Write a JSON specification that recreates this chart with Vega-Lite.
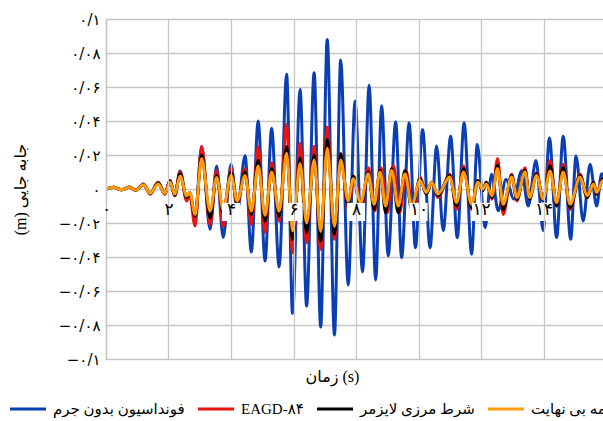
{
  "$schema": "https://vega.github.io/schema/vega-lite/v6.json",
  "width": 497,
  "height": 340,
  "autosize": {"type": "none"},
  "padding": {"left": 106, "top": 19, "right": 0, "bottom": 62},
  "background": "white",
  "config": {
    "view": {"stroke": null},
    "font": "Liberation Serif, DejaVu Sans",
    "axis": {"labelColor": "#000", "titleColor": "#000", "titleFontWeight": "normal", "labelOverlap": false, "labelBound": false},
    "axisY": {"labelOverlap": false},
    "axisQuantitative": {"labelOverlap": false}
  },
  "datasets": {
    "massless": [
      {"t":0,"v":0},{"t":0.25,"v":0.001},{"t":0.5,"v":-0.0005},{"t":0.75,"v":0.0012},{"t":0.95,"v":-0.0008},
      {"t":1.2,"v":0.003},{"t":1.41,"v":-0.003},{"t":1.67,"v":0.004},{"t":1.88,"v":-0.003},{"t":2.05,"v":0.005},
      {"t":2.2,"v":-0.004},{"t":2.37,"v":0.0106},{"t":2.58,"v":-0.006},{"t":2.68,"v":-0.002},{"t":2.85,"v":-0.018},
      {"t":3.06,"v":0.025},{"t":3.33,"v":-0.0237},{"t":3.54,"v":0.0135},{"t":3.75,"v":-0.0286},{"t":4.0,"v":0.0145},
      {"t":4.2,"v":-0.013},{"t":4.45,"v":0.0195},{"t":4.65,"v":-0.037},{"t":4.87,"v":0.04},{"t":5.09,"v":-0.0424},
      {"t":5.3,"v":0.0357},{"t":5.54,"v":-0.0459},{"t":5.78,"v":0.0675},{"t":5.97,"v":-0.0733},{"t":6.21,"v":0.0586},
      {"t":6.42,"v":-0.0688},{"t":6.66,"v":0.0684},{"t":6.87,"v":-0.0812},{"t":7.08,"v":0.088},{"t":7.31,"v":-0.0859},
      {"t":7.51,"v":0.0759},{"t":7.75,"v":-0.0565},{"t":7.97,"v":0.0518},{"t":8.21,"v":-0.0488},{"t":8.42,"v":0.061},
      {"t":8.63,"v":-0.0535},{"t":8.82,"v":0.049},{"t":9.03,"v":-0.0394},{"t":9.27,"v":0.0396},{"t":9.46,"v":-0.0404},
      {"t":9.7,"v":0.039},{"t":9.9,"v":-0.0345},{"t":10.13,"v":0.035},{"t":10.37,"v":-0.0345},{"t":10.58,"v":0.0253},
      {"t":10.79,"v":-0.0245},{"t":11.03,"v":0.031},{"t":11.24,"v":-0.0286},{"t":11.46,"v":0.039},{"t":11.7,"v":-0.0384},
      {"t":11.88,"v":0.0263},{"t":12.13,"v":-0.0228},{"t":12.34,"v":0.0087},{"t":12.55,"v":-0.0128},{"t":12.8,"v":0.0057},
      {"t":13.05,"v":-0.006},{"t":13.3,"v":0.0108},{"t":13.51,"v":-0.01},{"t":13.76,"v":0.0167},{"t":13.99,"v":-0.0245},
      {"t":14.19,"v":0.03},{"t":14.42,"v":-0.0286},{"t":14.63,"v":0.031},{"t":14.87,"v":-0.0296},{"t":15.04,"v":0.0194},
      {"t":15.27,"v":-0.0188},{"t":15.49,"v":0.0145},{"t":15.7,"v":-0.01},{"t":15.86,"v":0.009},{"t":16,"v":-0.004}
    ],
    "eagd": [
      {"t":0,"v":0},{"t":0.25,"v":0.001},{"t":0.5,"v":-0.0005},{"t":0.75,"v":0.0012},{"t":0.95,"v":-0.0008},
      {"t":1.2,"v":0.003},{"t":1.41,"v":-0.003},{"t":1.67,"v":0.004},{"t":1.88,"v":-0.003},{"t":2.05,"v":0.005},
      {"t":2.2,"v":-0.004},{"t":2.37,"v":0.01},{"t":2.58,"v":-0.007},{"t":2.68,"v":-0.004},{"t":2.85,"v":-0.0218},
      {"t":3.06,"v":0.025},{"t":3.33,"v":-0.021},{"t":3.54,"v":0.011},{"t":3.75,"v":-0.022},{"t":4.0,"v":0.012},
      {"t":4.2,"v":-0.01},{"t":4.45,"v":0.012},{"t":4.65,"v":-0.021},{"t":4.87,"v":0.025},{"t":5.09,"v":-0.0257},
      {"t":5.3,"v":0.0155},{"t":5.54,"v":-0.019},{"t":5.78,"v":0.038},{"t":5.97,"v":-0.0375},{"t":6.21,"v":0.0267},
      {"t":6.42,"v":-0.0316},{"t":6.66,"v":0.025},{"t":6.87,"v":-0.0355},{"t":7.08,"v":0.0365},{"t":7.31,"v":-0.0296},
      {"t":7.51,"v":0.021},{"t":7.75,"v":-0.012},{"t":7.95,"v":0.007},{"t":8.18,"v":-0.012},{"t":8.4,"v":0.0125},
      {"t":8.6,"v":-0.013},{"t":8.8,"v":0.0125},{"t":9.0,"v":-0.014},{"t":9.2,"v":0.0135},{"t":9.4,"v":-0.014},
      {"t":9.6,"v":0.011},{"t":9.83,"v":-0.014},{"t":10.05,"v":0.007},{"t":10.25,"v":-0.003},{"t":10.42,"v":0.004},
      {"t":10.62,"v":-0.005},{"t":11.0,"v":0.0087},{"t":11.22,"v":-0.012},{"t":11.44,"v":0.0135},{"t":11.7,"v":-0.012},
      {"t":11.9,"v":0.005},{"t":12.05,"v":-0.001},{"t":12.17,"v":0.004},{"t":12.35,"v":-0.006},{"t":12.53,"v":0.018},
      {"t":12.71,"v":-0.015},{"t":12.98,"v":0.0087},{"t":13.15,"v":-0.007},{"t":13.41,"v":0.0125},{"t":13.55,"v":-0.006},
      {"t":13.78,"v":0.0096},{"t":13.99,"v":-0.007},{"t":14.21,"v":0.0167},{"t":14.42,"v":-0.01},{"t":14.63,"v":0.0145},
      {"t":14.85,"v":-0.012},{"t":15.17,"v":0.0087},{"t":15.4,"v":-0.005},{"t":15.6,"v":0.004},{"t":15.7,"v":-0.003},
      {"t":15.9,"v":0.006},{"t":16,"v":0.003}
    ],
    "lysmer": [
      {"t":0,"v":0},{"t":0.25,"v":0.001},{"t":0.5,"v":-0.0005},{"t":0.75,"v":0.001},{"t":0.95,"v":-0.0008},
      {"t":1.2,"v":0.0025},{"t":1.41,"v":-0.0025},{"t":1.67,"v":0.0035},{"t":1.88,"v":-0.0025},{"t":2.05,"v":0.0045},
      {"t":2.2,"v":-0.0035},{"t":2.37,"v":0.009},{"t":2.58,"v":-0.005},{"t":2.68,"v":-0.003},{"t":2.85,"v":-0.016},
      {"t":3.06,"v":0.02},{"t":3.33,"v":-0.017},{"t":3.54,"v":0.008},{"t":3.75,"v":-0.014},{"t":4.0,"v":0.01},
      {"t":4.2,"v":-0.008},{"t":4.45,"v":0.01},{"t":4.65,"v":-0.015},{"t":4.87,"v":0.017},{"t":5.09,"v":-0.019},
      {"t":5.3,"v":0.012},{"t":5.54,"v":-0.016},{"t":5.78,"v":0.025},{"t":5.97,"v":-0.0296},{"t":6.21,"v":0.0184},
      {"t":6.42,"v":-0.0257},{"t":6.66,"v":0.02},{"t":6.87,"v":-0.0306},{"t":7.08,"v":0.029},{"t":7.31,"v":-0.0267},
      {"t":7.51,"v":0.0206},{"t":7.75,"v":-0.01},{"t":7.91,"v":0.0076},{"t":8.15,"v":-0.011},{"t":8.39,"v":0.01},
      {"t":8.58,"v":-0.012},{"t":8.77,"v":0.011},{"t":8.95,"v":-0.014},{"t":9.14,"v":0.012},{"t":9.35,"v":-0.014},
      {"t":9.57,"v":0.011},{"t":9.78,"v":-0.012},{"t":10.05,"v":0.006},{"t":10.25,"v":-0.003},{"t":10.42,"v":0.004},
      {"t":10.62,"v":-0.004},{"t":11.0,"v":0.008},{"t":11.22,"v":-0.01},{"t":11.44,"v":0.012},{"t":11.7,"v":-0.011},
      {"t":11.9,"v":0.005},{"t":12.05,"v":-0.001},{"t":12.17,"v":0.004},{"t":12.35,"v":-0.005},{"t":12.53,"v":0.014},
      {"t":12.71,"v":-0.012},{"t":12.98,"v":0.008},{"t":13.15,"v":-0.006},{"t":13.41,"v":0.011},{"t":13.55,"v":-0.006},
      {"t":13.78,"v":0.009},{"t":13.99,"v":-0.007},{"t":14.21,"v":0.0137},{"t":14.42,"v":-0.01},{"t":14.63,"v":0.0127},
      {"t":14.85,"v":-0.011},{"t":15.17,"v":0.008},{"t":15.4,"v":-0.005},{"t":15.6,"v":0.004},{"t":15.7,"v":-0.003},
      {"t":15.9,"v":0.006},{"t":16,"v":0.003}
    ],
    "infinite": [
      {"t":0,"v":0},{"t":0.25,"v":0.001},{"t":0.5,"v":-0.0005},{"t":0.75,"v":0.001},{"t":0.95,"v":-0.0008},
      {"t":1.2,"v":0.0025},{"t":1.41,"v":-0.0025},{"t":1.67,"v":0.003},{"t":1.88,"v":-0.0025},{"t":2.05,"v":0.004},
      {"t":2.2,"v":-0.003},{"t":2.37,"v":0.0076},{"t":2.58,"v":-0.004},{"t":2.68,"v":-0.002},{"t":2.85,"v":-0.015},
      {"t":3.06,"v":0.018},{"t":3.33,"v":-0.013},{"t":3.54,"v":0.0067},{"t":3.75,"v":-0.012},{"t":4.0,"v":0.008},
      {"t":4.2,"v":-0.007},{"t":4.45,"v":0.008},{"t":4.65,"v":-0.013},{"t":4.87,"v":0.0135},{"t":5.09,"v":-0.0155},
      {"t":5.3,"v":0.01},{"t":5.54,"v":-0.013},{"t":5.78,"v":0.021},{"t":5.97,"v":-0.0247},{"t":6.21,"v":0.015},
      {"t":6.42,"v":-0.02},{"t":6.66,"v":0.017},{"t":6.87,"v":-0.025},{"t":7.08,"v":0.024},{"t":7.31,"v":-0.022},
      {"t":7.51,"v":0.017},{"t":7.75,"v":-0.007},{"t":7.91,"v":0.006},{"t":8.15,"v":-0.008},{"t":8.39,"v":0.009},
      {"t":8.58,"v":-0.009},{"t":8.77,"v":0.01},{"t":8.95,"v":-0.01},{"t":9.14,"v":0.011},{"t":9.35,"v":-0.01},
      {"t":9.57,"v":0.009},{"t":9.78,"v":-0.01},{"t":10.05,"v":0.005},{"t":10.25,"v":-0.002},{"t":10.42,"v":0.004},
      {"t":10.62,"v":-0.003},{"t":11.0,"v":0.007},{"t":11.22,"v":-0.008},{"t":11.44,"v":0.01},{"t":11.7,"v":-0.009},
      {"t":11.9,"v":0.004},{"t":12.05,"v":0},{"t":12.17,"v":0.003},{"t":12.35,"v":-0.004},{"t":12.53,"v":0.012},
      {"t":12.71,"v":-0.009},{"t":12.98,"v":0.007},{"t":13.15,"v":-0.005},{"t":13.41,"v":0.01},{"t":13.55,"v":-0.005},
      {"t":13.78,"v":0.008},{"t":13.99,"v":-0.006},{"t":14.21,"v":0.0106},{"t":14.42,"v":-0.008},{"t":14.63,"v":0.01},
      {"t":14.85,"v":-0.009},{"t":15.17,"v":0.007},{"t":15.4,"v":-0.004},{"t":15.6,"v":0.003},{"t":15.7,"v":-0.002},
      {"t":15.9,"v":0.005},{"t":16,"v":0.002}
    ],
    "timeTicks": [
      {"t":0},{"t":2},{"t":4},{"t":6},{"t":8},{"t":10},{"t":12},{"t":14}
    ]
  },
  "layer": [
    {
      "data": {"name": "massless"},
      "mark": {"type": "line", "interpolate": "monotone", "strokeWidth": 3, "clip": true},
      "encoding": {
        "x": {
          "field": "t", "type": "quantitative",
          "scale": {"domain": [0, 15.904], "nice": false},
          "axis": {
            "values": [0, 2, 4, 6, 8, 10, 12, 14],
            "offset": -170,
            "grid": true, "gridColor": "#c6c6c6", "gridWidth": 1.3,
            "domain": false, "ticks": false, "tickSize": 0,
            "labelPadding": 12, "labelFontSize": 17, "labelFont": "DejaVu Sans",
            "labelOverlap": false, "labelFlush": false,
            "labelExpr": "replace(replace(replace(replace(replace(replace(datum.label, regexp('0','g'), '۰'), regexp('1','g'), '۱'), '2', '۲'), '4', '۴'), '6', '۶'), '8', '۸')",
            "zindex": 1,
            "title": "زمان (s)", "titleFontSize": 16,
            "titleX": 226, "titleY": 187, "titleAlign": "center", "titleBaseline": "middle"
          }
        },
        "y": {
          "field": "v", "type": "quantitative",
          "scale": {"domain": [-0.1, 0.1], "nice": false},
          "axis": {
            "values": [-0.1, -0.08, -0.06, -0.04, -0.02, 0, 0.02, 0.04, 0.06, 0.08, 0.1],
            "tickCount": 11,
            "grid": true, "gridColor": "#c6c6c6", "gridWidth": 1.3,
            "domain": true, "domainColor": "#b4b4b4", "domainWidth": 1.3,
            "ticks": false, "labelPadding": 6, "labelFontSize": 15, "labelFont": "DejaVu Sans",
            "labelOverlap": false, "labelFlush": false, "labelBound": false,
            "labelExpr": "(datum.value < 0 ? '−' : '') + replace(replace(replace(replace(replace(replace(replace(format(abs(datum.value), '.2~f'), regexp('0','g'), '۰'), '.', '/'), '1', '۱'), '2', '۲'), '4', '۴'), '6', '۶'), '8', '۸')",
            "title": "(m) جابه جایی", "titleFontSize": 16,
            "titleX": -86, "titleY": 170, "titleAngle": -90, "titleAlign": "center", "titleBaseline": "middle"
          }
        },
        "color": {
          "datum": "فونداسیون بدون جرم", "type": "nominal",
          "scale": {
            "domain": ["فونداسیون بدون جرم", "EAGD-۸۴", "شرط مرزی لایزمر", "المان نیمه بی نهایت"],
            "range": ["#0a3fb4", "#e8140f", "#000000", "#ff9a0a"]
          },
          "legend": {
            "orient": "none", "legendX": -98, "legendY": 370,
            "direction": "horizontal", "title": null, "padding": 0,
            "symbolType": "stroke", "symbolStrokeWidth": 3, "symbolSize": 1300,
            "labelFontSize": 15, "labelFont": "Liberation Serif, DejaVu Sans", "labelColor": "#000",
            "labelOffset": 5, "columnPadding": 6, "labelLimit": 300
          }
        }
      }
    },
    {
      "data": {"name": "eagd"},
      "mark": {"type": "line", "interpolate": "monotone", "strokeWidth": 3, "clip": true},
      "encoding": {
        "x": {"field": "t", "type": "quantitative"},
        "y": {"field": "v", "type": "quantitative"},
        "color": {"datum": "EAGD-۸۴", "type": "nominal"}
      }
    },
    {
      "data": {"name": "lysmer"},
      "mark": {"type": "line", "interpolate": "monotone", "strokeWidth": 3, "clip": true},
      "encoding": {
        "x": {"field": "t", "type": "quantitative"},
        "y": {"field": "v", "type": "quantitative"},
        "color": {"datum": "شرط مرزی لایزمر", "type": "nominal"}
      }
    },
    {
      "data": {"name": "infinite"},
      "mark": {"type": "line", "interpolate": "monotone", "strokeWidth": 3, "clip": true},
      "encoding": {
        "x": {"field": "t", "type": "quantitative"},
        "y": {"field": "v", "type": "quantitative"},
        "color": {"datum": "المان نیمه بی نهایت", "type": "nominal"}
      }
    },
    {
      "data": {"name": "timeTicks"},
      "mark": {"type": "square", "filled": true, "color": "white", "opacity": 1, "size": 330},
      "encoding": {
        "x": {"field": "t", "type": "quantitative"},
        "y": {"datum": -0.0135, "type": "quantitative"}
      }
    }
  ]
}
